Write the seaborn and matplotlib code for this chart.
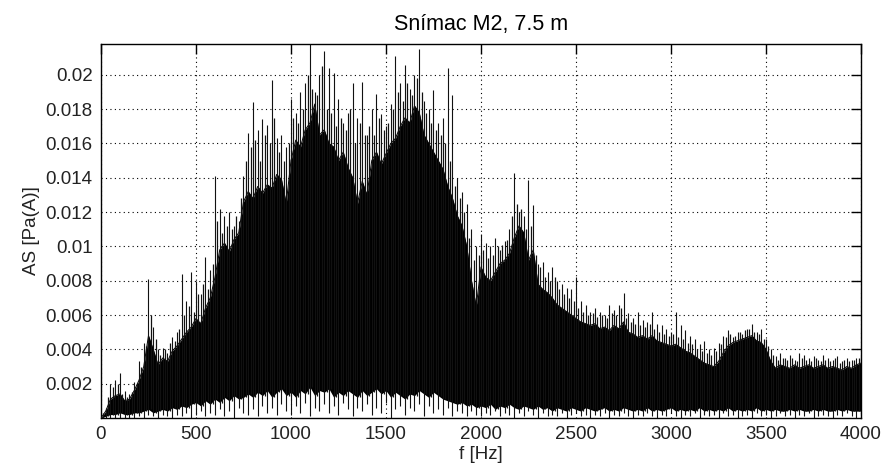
import numpy as np
import pandas as pd
import matplotlib
matplotlib.use("Agg")
import matplotlib.pyplot as plt
from matplotlib.ticker import FuncFormatter, FixedLocator
import seaborn as sns

# Amplitude spectrum, sensor M2 at 7.5 m
title = "Snímac M2, 7.5 m"
x_label = "f [Hz]"
y_label = "AS [Pa(A)]"

x_ticks = [0, 500, 1000, 1500, 2000, 2500, 3000, 3500, 4000]
y_ticks = [0.002, 0.004, 0.006, 0.008, 0.01, 0.012, 0.014, 0.016, 0.018, 0.02]

# frequency bands of 25 Hz, 0 ... 4000 Hz
freq = np.arange(0, 4001, 25)
# band midpoints, 12.5 ... 3987.5 Hz
freq_mid = np.arange(12.5, 4000, 25)

# highest spike in each band
peak_amp = [
    0.0001, 0.0006, 0.0020, 0.0022, 0.0026, 0.0016, 0.0014, 0.0021, 0.0033, 0.0044,
    0.0081, 0.0053, 0.0040, 0.0041, 0.0038, 0.0047, 0.0050, 0.0084, 0.0068, 0.0085,
    0.0080, 0.0072, 0.0094, 0.0086, 0.0141, 0.0122, 0.0118, 0.0120, 0.0112, 0.0115,
    0.0141, 0.0166, 0.0184, 0.0168, 0.0174, 0.0171, 0.0197, 0.0163, 0.0165, 0.0158,
    0.0186, 0.0178, 0.0190, 0.0195, 0.0218, 0.0190, 0.0200, 0.0214, 0.0204, 0.0201,
    0.0186, 0.0172, 0.0178, 0.0195, 0.0175, 0.0196, 0.0165, 0.0180, 0.0189, 0.0177,
    0.0170, 0.0183, 0.0211, 0.0195, 0.0206, 0.0192, 0.0200, 0.0215, 0.0185, 0.0180,
    0.0191, 0.0172, 0.0175, 0.0204, 0.0188, 0.0140, 0.0132, 0.0125, 0.0110, 0.0100,
    0.0107, 0.0102, 0.0100, 0.0105, 0.0098, 0.0103, 0.0110, 0.0143, 0.0120, 0.0118,
    0.0139, 0.0124, 0.0090, 0.0091, 0.0085, 0.0088, 0.0080, 0.0078, 0.0076, 0.0075,
    0.0082, 0.0068, 0.0066, 0.0062, 0.0064, 0.0062, 0.0060, 0.0066, 0.0063, 0.0066,
    0.0073, 0.0061, 0.0058, 0.0062, 0.0057, 0.0056, 0.0062, 0.0055, 0.0054, 0.0052,
    0.0050, 0.0062, 0.0054, 0.0051, 0.0048, 0.0046, 0.0043, 0.0045, 0.0040, 0.0041,
    0.0044, 0.0048, 0.0051, 0.0047, 0.0050, 0.0049, 0.0052, 0.0055, 0.0050, 0.0052,
    0.0046, 0.0040, 0.0036, 0.0038, 0.0035, 0.0037, 0.0034, 0.0038, 0.0037, 0.0035,
    0.0036, 0.0034, 0.0037, 0.0035, 0.0034, 0.0036, 0.0033, 0.0035, 0.0034, 0.0035,
    0.0036,
]

# secondary spike at each band midpoint
mid_amp = [
    0.0003, 0.0012, 0.0018, 0.0020, 0.0014, 0.0012, 0.0015, 0.0020,
    0.0030, 0.0042, 0.0060, 0.0046, 0.0037, 0.0040, 0.0044, 0.0045,
    0.0052, 0.0060, 0.0065, 0.0062, 0.0072, 0.0078, 0.0075, 0.0090,
    0.0115, 0.0108, 0.0112, 0.0110, 0.0118, 0.0128, 0.0150, 0.0158,
    0.0162, 0.0150, 0.0165, 0.0160, 0.0175, 0.0155, 0.0150, 0.0160,
    0.0175, 0.0172, 0.0180, 0.0200, 0.0192, 0.0188, 0.0205, 0.0180,
    0.0178, 0.0170, 0.0175, 0.0168, 0.0180, 0.0160, 0.0172, 0.0165,
    0.0170, 0.0165, 0.0175, 0.0168, 0.0172, 0.0180, 0.0190, 0.0185,
    0.0195, 0.0188, 0.0198, 0.0190, 0.0178, 0.0172, 0.0168, 0.0165,
    0.0160, 0.0150, 0.0135, 0.0128, 0.0120, 0.0105, 0.0092, 0.0095,
    0.0098, 0.0093, 0.0095, 0.0100, 0.0101, 0.0104, 0.0118, 0.0125,
    0.0122, 0.0110, 0.0112, 0.0095, 0.0088, 0.0082, 0.0080, 0.0082,
    0.0075, 0.0072, 0.0070, 0.0068, 0.0064, 0.0062, 0.0060, 0.0061,
    0.0059, 0.0060, 0.0058, 0.0061, 0.0060, 0.0064, 0.0058, 0.0056,
    0.0055, 0.0054, 0.0053, 0.0055, 0.0052, 0.0050, 0.0049, 0.0048,
    0.0049, 0.0047, 0.0046, 0.0044, 0.0043, 0.0040, 0.0039, 0.0038,
    0.0037, 0.0039, 0.0043, 0.0047, 0.0049, 0.0048, 0.0050, 0.0051,
    0.0052, 0.0050, 0.0049, 0.0046, 0.0042, 0.0037, 0.0034, 0.0035,
    0.0034, 0.0035, 0.0033, 0.0035, 0.0034, 0.0033, 0.0035, 0.0033,
    0.0034, 0.0033, 0.0035, 0.0032, 0.0034, 0.0033, 0.0034, 0.0035,
]

# upper edge of the dense core in each band
body_amp = [
    0.0000, 0.0004, 0.0011, 0.0013, 0.0014, 0.0010, 0.0011, 0.0016, 0.0022, 0.0030,
    0.0048, 0.0040, 0.0031, 0.0035, 0.0033, 0.0039, 0.0042, 0.0046, 0.0050, 0.0053,
    0.0058, 0.0055, 0.0064, 0.0070, 0.0082, 0.0098, 0.0102, 0.0097, 0.0104, 0.0108,
    0.0126, 0.0132, 0.0128, 0.0135, 0.0131, 0.0136, 0.0134, 0.0142, 0.0139, 0.0125,
    0.0150, 0.0162, 0.0158, 0.0168, 0.0172, 0.0183, 0.0165, 0.0168, 0.0160, 0.0158,
    0.0150, 0.0155, 0.0146, 0.0140, 0.0125, 0.0138, 0.0130, 0.0150, 0.0155, 0.0148,
    0.0154, 0.0160, 0.0163, 0.0170, 0.0175, 0.0172, 0.0182, 0.0178, 0.0165, 0.0160,
    0.0155, 0.0150, 0.0145, 0.0135, 0.0128, 0.0118, 0.0112, 0.0100, 0.0080, 0.0065,
    0.0088, 0.0082, 0.0080, 0.0085, 0.0090, 0.0092, 0.0096, 0.0105, 0.0112, 0.0108,
    0.0092, 0.0098, 0.0078, 0.0075, 0.0073, 0.0070, 0.0066, 0.0064, 0.0062, 0.0060,
    0.0058, 0.0056, 0.0055, 0.0054, 0.0055, 0.0052, 0.0053, 0.0051, 0.0054, 0.0052,
    0.0056, 0.0050, 0.0049, 0.0047, 0.0048, 0.0046, 0.0048, 0.0045, 0.0044, 0.0043,
    0.0042, 0.0043, 0.0041, 0.0039, 0.0038, 0.0036, 0.0034, 0.0032, 0.0031, 0.0030,
    0.0033, 0.0038, 0.0042, 0.0044, 0.0045, 0.0046, 0.0047, 0.0048, 0.0045, 0.0044,
    0.0040, 0.0033, 0.0029, 0.0031, 0.0030, 0.0029, 0.0031, 0.0029, 0.0030, 0.0031,
    0.0029, 0.0030, 0.0031, 0.0029, 0.0030, 0.0029, 0.0028, 0.0030, 0.0029, 0.0031,
    0.0032,
]

# lower edge of the dense core in each band
floor_amp = [
    0.0000, 0.0001, 0.0002, 0.0002, 0.0003, 0.0002, 0.0002, 0.0003,
    0.0003, 0.0004, 0.0005, 0.0003, 0.0004, 0.0005, 0.0004, 0.0006,
    0.0005, 0.0007, 0.0006, 0.0008, 0.0009, 0.0007, 0.0010, 0.0008,
    0.0011, 0.0009, 0.0012, 0.0010, 0.0013, 0.0011, 0.0012, 0.0014,
    0.0012, 0.0015, 0.0013, 0.0016, 0.0012, 0.0015, 0.0017, 0.0013,
    0.0015, 0.0012, 0.0016, 0.0014, 0.0018, 0.0013, 0.0016, 0.0015,
    0.0017, 0.0012, 0.0015, 0.0013, 0.0016, 0.0014, 0.0012, 0.0016,
    0.0013, 0.0015, 0.0017, 0.0014, 0.0016, 0.0012, 0.0015, 0.0013,
    0.0011, 0.0014, 0.0013, 0.0016, 0.0014, 0.0012, 0.0015, 0.0013,
    0.0011, 0.0010, 0.0009, 0.0008, 0.0009, 0.0007, 0.0008, 0.0006,
    0.0007, 0.0006, 0.0008, 0.0005, 0.0007, 0.0006, 0.0008, 0.0006,
    0.0005, 0.0007, 0.0006, 0.0005, 0.0007, 0.0005, 0.0006, 0.0004,
    0.0006, 0.0005, 0.0004, 0.0006, 0.0005, 0.0004, 0.0006, 0.0005,
    0.0004, 0.0005, 0.0006, 0.0004, 0.0005, 0.0004, 0.0006, 0.0005,
    0.0004, 0.0005, 0.0004, 0.0006, 0.0004, 0.0005, 0.0004, 0.0005,
    0.0006, 0.0004, 0.0005, 0.0004, 0.0005, 0.0004, 0.0006, 0.0004,
    0.0005, 0.0004, 0.0005, 0.0004, 0.0006, 0.0004, 0.0005, 0.0004,
    0.0005, 0.0004, 0.0006, 0.0004, 0.0005, 0.0004, 0.0005, 0.0004,
    0.0004, 0.0005, 0.0004, 0.0005, 0.0004, 0.0004, 0.0005, 0.0004,
    0.0005, 0.0004, 0.0004, 0.0005, 0.0004, 0.0005, 0.0004, 0.0004,
    0.0004,
]

# deepest dip below the core in each band
low_amp = [
    0.0000, 0.0000, 0.0000, 0.0000, 0.0000, 0.0000, 0.0000, 0.0000,
    0.0001, 0.0000, 0.0002, 0.0001, 0.0000, 0.0002, 0.0001, 0.0000,
    0.0002, 0.0001, 0.0003, 0.0000, 0.0002, 0.0004, 0.0001, 0.0003,
    0.0002, 0.0005, 0.0001, 0.0004, 0.0000, 0.0006, 0.0003, 0.0002,
    0.0005, 0.0001, 0.0007, 0.0003, 0.0006, 0.0002, 0.0008, 0.0004,
    0.0002, 0.0007, 0.0003, 0.0009, 0.0001, 0.0006, 0.0004, 0.0008,
    0.0003, 0.0007, 0.0002, 0.0009, 0.0005, 0.0001, 0.0006, 0.0004,
    0.0008, 0.0002, 0.0006, 0.0003, 0.0009, 0.0000, 0.0005, 0.0007,
    0.0002, 0.0006, 0.0004, 0.0008, 0.0001, 0.0007, 0.0003, 0.0005,
    0.0002, 0.0006, 0.0001, 0.0004, 0.0003, 0.0001, 0.0004, 0.0002,
    0.0001, 0.0003, 0.0002, 0.0004, 0.0001, 0.0003, 0.0002, 0.0000,
    0.0003, 0.0001, 0.0004, 0.0002, 0.0000, 0.0003, 0.0001, 0.0002,
    0.0001, 0.0003, 0.0000, 0.0002, 0.0003, 0.0001, 0.0002, 0.0000,
    0.0002, 0.0001, 0.0003, 0.0000, 0.0002, 0.0001, 0.0003, 0.0001,
    0.0000, 0.0002, 0.0001, 0.0003, 0.0001, 0.0000, 0.0002, 0.0001,
    0.0003, 0.0001, 0.0000, 0.0002, 0.0001, 0.0003, 0.0000, 0.0002,
    0.0001, 0.0002, 0.0000, 0.0003, 0.0001, 0.0002, 0.0000, 0.0001,
    0.0002, 0.0000, 0.0003, 0.0001, 0.0002, 0.0000, 0.0001, 0.0003,
    0.0001, 0.0002, 0.0000, 0.0002, 0.0001, 0.0003, 0.0000, 0.0001,
    0.0002, 0.0001, 0.0000, 0.0002, 0.0001, 0.0003, 0.0001, 0.0000,
    0.0002,
]

spec = pd.DataFrame({"f": freq, "peak": peak_amp, "body": body_amp,
                     "floor": floor_amp, "low": low_amp})
mids = pd.DataFrame({"f": freq_mid, "amp": mid_amp, "base": floor_amp[:-1]})

sns.set_theme(style="white")
plt.rcParams["font.family"] = ["Liberation Sans", "DejaVu Sans"]

fig = plt.figure(figsize=(8.85, 4.73), dpi=100)
ax = fig.add_axes([0.1141, 0.1163, 0.8588, 0.7907])

# dense core, then the individual spikes on top of it
ax.fill_between(spec["f"], spec["floor"], spec["body"], color="black", lw=0, zorder=2)
sns.lineplot(data=spec, x="f", y="body", ax=ax, color="black", lw=0.7, zorder=2)
ax.vlines(mids["f"], mids["base"], mids["amp"], color="#111111", lw=0.9, zorder=3)
ax.vlines(spec["f"], spec["low"], spec["peak"], color="#111111", lw=0.8, zorder=3)

ax.set_xlim(0, 4000)
ax.set_ylim(0, 0.0218)
ax.xaxis.set_major_locator(FixedLocator(x_ticks))
ax.yaxis.set_major_locator(FixedLocator(y_ticks))
ax.yaxis.set_major_formatter(FuncFormatter(lambda v, p: f"{v:g}"))
ax.xaxis.set_major_formatter(FuncFormatter(lambda v, p: f"{v:g}"))

ax.grid(True, linestyle=(0, (1, 3)), color="black", lw=0.8, zorder=1)
ax.set_axisbelow(True)
for s in ax.spines.values():
    s.set_color("black")
    s.set_linewidth(1.0)
ax.tick_params(direction="in", length=7, width=1, color="black",
               top=True, right=True, labelsize=13.5, labelcolor="#222222", pad=6)

ax.set_title(title, fontsize=15.5, color="black", pad=10)
ax.set_xlabel(x_label, fontsize=13.5, color="#222222", labelpad=2)
ax.set_ylabel(y_label, fontsize=13.5, color="#222222", labelpad=4)

fig.savefig("out.png", dpi=100, facecolor="white")
